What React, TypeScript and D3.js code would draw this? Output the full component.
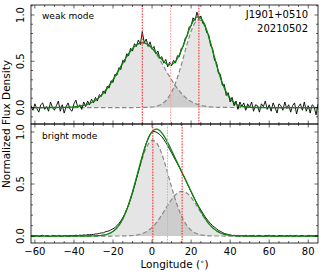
import React from "react";
import * as d3 from "d3";

// pulse longitude grid starts here, 1 deg per sample
const lonStart = -62;

// weak mode profile (1 deg steps from -62)
const weakProfile = [
  0.02, -0.03, 0.04, -0.01, -0.05, 0.03, 0.05, -0.02, 0.01, -0.04,
  0.06, 0.0, -0.03, 0.02, 0.07, -0.04, 0.03, -0.06, 0.01, 0.05,
  -0.02, -0.04, 0.04, 0.08, 0.0, 0.03, -0.02, 0.06, 0.01, 0.07,
  0.03, 0.09, 0.05, 0.11, 0.07, 0.14, 0.12, 0.18, 0.15, 0.23,
  0.21, 0.29, 0.27, 0.36, 0.35, 0.43, 0.41, 0.51, 0.49, 0.58,
  0.56, 0.64, 0.61, 0.69, 0.66, 0.73, 0.68, 0.82, 0.7, 0.74,
  0.66, 0.71, 0.63, 0.66, 0.58, 0.61, 0.53, 0.55, 0.48, 0.52,
  0.44, 0.49, 0.45, 0.51, 0.48, 0.56, 0.55, 0.64, 0.66, 0.75,
  0.77, 0.87, 0.88, 0.97, 0.94, 1.03, 0.96, 0.99, 0.91, 0.9,
  0.81, 0.79, 0.67, 0.64, 0.51, 0.49, 0.37, 0.36, 0.24, 0.25,
  0.13, 0.16, 0.06, 0.11, 0.02, 0.07, -0.02, 0.06, 0.01, 0.05,
  -0.03, 0.04, 0.0, 0.06, -0.04, 0.03, 0.02, -0.05, 0.04, 0.01,
  0.07, -0.02, 0.03, -0.04, 0.05, 0.0, -0.06, 0.04, 0.02, -0.03,
  0.06, -0.01, 0.03, -0.05, 0.02, 0.05, -0.07, 0.01, 0.04, -0.03,
  0.06, -0.04, 0.02, -0.06, 0.03, 0.01, -0.08, 0.04,
];

// bright mode profile (1 deg steps from -62)
const brightProfile = [
  0.003, -0.002, 0.0, 0.006, -0.004, 0.002, 0.008, -0.003, 0.004, 0.0,
  -0.005, 0.006, 0.002, -0.002, 0.007, 0.001, -0.004, 0.005, 0.003, -0.001,
  0.006, 0.002, 0.004, 0.008, 0.003, 0.009, 0.006, 0.011, 0.008, 0.014,
  0.012, 0.016, 0.015, 0.02, 0.02, 0.025, 0.03, 0.03, 0.04, 0.045,
  0.05, 0.06, 0.07, 0.08, 0.1, 0.12, 0.145, 0.175, 0.21, 0.255,
  0.3, 0.355, 0.415, 0.48, 0.55, 0.62, 0.69, 0.76, 0.83, 0.89,
  0.94, 0.98, 1.0, 1.005, 1.0, 0.99, 0.975, 0.955, 0.93, 0.9,
  0.87, 0.835, 0.8, 0.765, 0.73, 0.695, 0.66, 0.62, 0.585, 0.545,
  0.505, 0.465, 0.425, 0.385, 0.35, 0.315, 0.28, 0.25, 0.22, 0.19,
  0.165, 0.14, 0.12, 0.1, 0.085, 0.07, 0.055, 0.045, 0.035, 0.025,
  0.02, 0.015, 0.01, 0.004, 0.008, 0.002, 0.006, -0.002, 0.005, 0.001,
  0.007, -0.003, 0.004, 0.0, 0.006, -0.004, 0.003, 0.007, 0.0, -0.003,
  0.005, 0.002, 0.008, -0.002, 0.004, 0.001, -0.005, 0.006, 0.002, 0.004,
  -0.003, 0.005, 0.0, 0.007, -0.002, 0.003, 0.006, -0.004, 0.002, 0.005,
  0.0, -0.003, 0.006, 0.001, 0.004, -0.002, 0.005, 0.002,
];

// gaussian fit components
const weakCenters = [-5, 24];
const weakAmps = [0.7, 0.95];
const weakSigmas = [11.5, 7.5];
const brightCenters = [0.4, 15.4];
const brightAmps = [0.92, 0.43];
const brightSigmas = [8.3, 8.5];

// vertical markers: component centres and their midpoint
const weakMarkers = [-5, 9.5, 24];
const brightMarkers = [0.4, 7.9, 15.4];

const xTicks = [-60, -40, -20, 0, 20, 40, 60, 80];
const yTicks = [0, 0.5, 1];

const W = 324;
const H = 275;
const left = 31;
const right = 318;
const font = "DejaVu Sans, sans-serif";

const x = d3.scaleLinear().domain([-62, 85]).range([left, right]);
const fineLon = d3.range(-62, 85.01, 0.5);

function gauss(a: number, c: number, s: number, v: number) {
  return a * Math.exp(-((v - c) ** 2) / (2 * s * s));
}

function Panel({ profile, centers, amps, sigmas, markers, top, bottom, yDomain, showX }: any) {
  const y = d3.scaleLinear().domain(yDomain).range([bottom, top]);
  const comps = centers.map((c: number, i: number) =>
    fineLon.map((v) => [v, gauss(amps[i], c, sigmas[i], v)] as [number, number])
  );
  const total = fineLon.map((v) => [v, d3.sum(centers, (c: number, i: number) => gauss(amps[i], c, sigmas[i], v))] as [number, number]);
  const line = d3.line<[number, number]>().x((d) => x(d[0])).y((d) => y(d[1]));
  const area = d3.area<[number, number]>().x((d) => x(d[0])).y0(y(0)).y1((d) => y(d[1]));
  const data = profile.map((v: number, i: number) => [lonStart + i, v] as [number, number]);
  const clipId = `clip${top}`;

  const xMinor = d3.range(-60, 85, 5);
  const yMinor = d3.range(-0.1, 1.11, 0.1).filter((v) => v >= yDomain[0] && v <= yDomain[1]);

  return (
    <g>
      <defs>
        <clipPath id={clipId}>
          <rect x={left} y={top} width={right - left} height={bottom - top} />
        </clipPath>
      </defs>
      <g clipPath={`url(#${clipId})`}>
        {comps.map((c: any, i: number) => (
          <path key={"a" + i} d={area(c)!} fill="#000" fillOpacity={0.1} />
        ))}
        {comps.map((c: any, i: number) => (
          <path key={"c" + i} d={line(c)!} fill="none" stroke="#888" strokeWidth={1.2} strokeDasharray="4.5 2.5" />
        ))}
        <path d={line(data)!} fill="none" stroke="#000" strokeWidth={0.9} />
        <path d={line(total)!} fill="none" stroke="#0a8a0a" strokeWidth={1.3} />
        {markers.map((m: number, i: number) => (
          <line key={"m" + i} x1={x(m)} x2={x(m)} y1={top} y2={bottom}
            stroke={i === 1 ? "#ff9a9a" : "#ff2020"} strokeWidth={1} strokeDasharray="1.6 1.2" />
        ))}
      </g>
      <rect x={left} y={top} width={right - left} height={bottom - top} fill="none" stroke="#000" strokeWidth={0.8} />
      {xMinor.map((t) => {
        const major = t % 20 === 0;
        const len = major ? 3.5 : 2;
        return (
          <g key={"xt" + t} stroke="#000" strokeWidth={0.6}>
            <line x1={x(t)} x2={x(t)} y1={bottom} y2={bottom - len} />
            <line x1={x(t)} x2={x(t)} y1={top} y2={top + len} />
          </g>
        );
      })}
      {yMinor.map((t) => {
        const major = Math.abs(t * 2 - Math.round(t * 2)) < 1e-6;
        const len = major ? 3.5 : 2;
        return (
          <g key={"yt" + t.toFixed(2)} stroke="#000" strokeWidth={0.6}>
            <line x1={left} x2={left + len} y1={y(t)} y2={y(t)} />
            <line x1={right} x2={right - len} y1={y(t)} y2={y(t)} />
          </g>
        );
      })}
      {yTicks.map((t) => (
        <text key={"yl" + t} transform={`translate(${left - 7},${y(t)}) rotate(-90)`}
          textAnchor="middle" fontSize={10} fontFamily={font} fill="#000">
          {t.toFixed(1)}
        </text>
      ))}
      {showX &&
        xTicks.map((t) => (
          <text key={"xl" + t} x={x(t)} y={bottom + 12} textAnchor="middle" fontSize={10} fontFamily={font} fill="#000">
            {t < 0 ? "\u2212" + Math.abs(t) : t}
          </text>
        ))}
    </g>
  );
}

export default function App() {
  return (
    <svg width={W} height={H} style={{ position: "absolute", left: 0, top: 0, background: "#fff" }}>
      <Panel profile={weakProfile} centers={weakCenters} amps={weakAmps} sigmas={weakSigmas}
        markers={weakMarkers} top={5} bottom={124} yDomain={[-0.178, 1.108]} showX={false} />
      <Panel profile={brightProfile} centers={brightCenters} amps={brightAmps} sigmas={brightSigmas}
        markers={brightMarkers} top={124} bottom={243} yDomain={[-0.067, 1.077]} showX={true} />
      <text x={42} y={19} fontSize={9} fontFamily={font}>weak mode</text>
      <text x={42} y={139} fontSize={9} fontFamily={font}>bright mode</text>
      <text x={308} y={18} fontSize={10} fontFamily={font} textAnchor="end">J1901+0510</text>
      <text x={308} y={32} fontSize={10} fontFamily={font} textAnchor="end">20210502</text>
      <text transform={`translate(10,124) rotate(-90)`} textAnchor="middle" fontSize={10.5} fontFamily={font}>
        Normalized Flux Density
      </text>
      <text x={174.5} y={268} textAnchor="middle" fontSize={10.5} fontFamily={font}>
        Longitude (
        <tspan fontSize={7} dy={-4}>{"\u2218"}</tspan>
        <tspan dy={4}>)</tspan>
      </text>
    </svg>
  );
}
